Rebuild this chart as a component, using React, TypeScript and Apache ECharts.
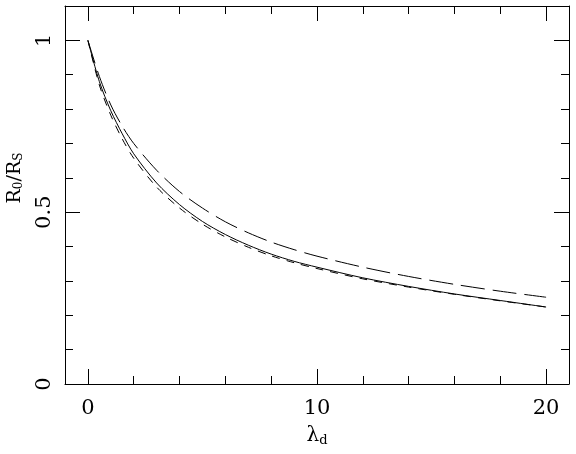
import { useEffect, useRef } from 'react'
import * as echarts from 'echarts'

// λ_d sample points and the three R0/RS curves
const lambda = [0, 0.5, 1, 1.5, 2, 3, 4, 5, 6, 7, 8, 9, 10, 12, 14, 16, 18, 20]
const solid = [1, 0.88, 0.795, 0.728, 0.67, 0.585, 0.522, 0.473, 0.435, 0.404, 0.378, 0.357, 0.34, 0.309, 0.284, 0.262, 0.243, 0.224]
const longDash = [1, 0.895, 0.812, 0.75, 0.7, 0.622, 0.56, 0.512, 0.472, 0.44, 0.413, 0.391, 0.372, 0.34, 0.313, 0.29, 0.27, 0.2525]
const shortDash = [1, 0.87, 0.782, 0.713, 0.657, 0.573, 0.512, 0.465, 0.428, 0.398, 0.373, 0.353, 0.336, 0.306, 0.282, 0.261, 0.242, 0.224]

const xMajor = [0, 10, 20]
const xMinor = [2, 4, 6, 8, 12, 14, 16, 18]
const yMajor = [0, 0.5, 1]
const yMinor = [0.1, 0.2, 0.3, 0.4, 0.6, 0.7, 0.8, 0.9]

const FONT = 'DejaVu Serif'
const INK = '#000'

export default function App() {
  const chartRef = useRef<HTMLDivElement>(null)

  useEffect(() => {
    if (!chartRef.current) return
    const chart = echarts.init(chartRef.current, undefined, { renderer: 'svg' })

    const pts = (ys: number[]) => lambda.map((x, i) => [x, ys[i]])

    const xAxisBase = (position: 'bottom' | 'top', ticks: number[], len: number, labels: boolean, line: boolean) => ({
      type: 'value',
      position,
      min: -1,
      max: 21,
      axisLine: { show: line, onZero: false, lineStyle: { color: INK, width: 1 } },
      axisTick: { show: true, inside: true, length: len, customValues: ticks, lineStyle: { color: INK, width: 1 } },
      axisLabel: labels
        ? { show: true, customValues: ticks, color: INK, fontSize: 21, fontFamily: FONT, margin: 12 }
        : { show: false },
      splitLine: { show: false },
    })

    const yAxisBase = (position: 'left' | 'right', ticks: number[], len: number, labels: boolean, line: boolean) => ({
      type: 'value',
      position,
      min: 0,
      max: 1.1,
      axisLine: { show: line, onZero: false, lineStyle: { color: INK, width: 1 } },
      axisTick: { show: true, inside: true, length: len, customValues: ticks, lineStyle: { color: INK, width: 1 } },
      axisLabel: labels
        ? { show: true, customValues: ticks, rotate: 90, color: INK, fontSize: 21, fontFamily: FONT, margin: 12 }
        : { show: false },
      splitLine: { show: false },
    })

    const line = (name: string, ys: number[], type: any) => ({
      name,
      type: 'line',
      data: pts(ys),
      showSymbol: false,
      smooth: 0.3,
      xAxisIndex: 0,
      yAxisIndex: 0,
      lineStyle: { color: INK, width: 1, type },
    })

    chart.setOption({
      animation: false,
      grid: { left: 65, top: 6, width: 504, height: 378 },
      xAxis: [
        xAxisBase('bottom', xMajor, 15, true, true),
        xAxisBase('bottom', xMinor, 8, false, false),
        xAxisBase('top', xMajor, 15, false, true),
        xAxisBase('top', xMinor, 8, false, false),
      ],
      yAxis: [
        yAxisBase('left', yMajor, 15, true, true),
        yAxisBase('left', yMinor, 8, false, false),
        yAxisBase('right', yMajor, 15, false, true),
        yAxisBase('right', yMinor, 8, false, false),
      ],
      graphic: [
        {
          type: 'text',
          x: 317,
          y: 434,
          style: {
            text: 'λ{s|d}',
            fill: INK,
            fontSize: 20,
            fontFamily: FONT,
            align: 'center',
            verticalAlign: 'middle',
            rich: { s: { fontSize: 13, fontFamily: FONT, fill: INK, padding: [10, 0, 0, 0] } },
          },
        },
        {
          type: 'text',
          x: 13,
          y: 178,
          rotation: Math.PI / 2,
          style: {
            text: 'R{s|0}/R{s|S}',
            fill: INK,
            fontSize: 19,
            fontFamily: FONT,
            align: 'center',
            verticalAlign: 'middle',
            rich: { s: { fontSize: 12, fontFamily: FONT, fill: INK, padding: [10, 0, 0, 0] } },
          },
        },
      ],
      series: [
        line('solid', solid, 'solid'),
        line('long dash', longDash, [24, 8]),
        line('short dash', shortDash, [8, 7]),
      ],
    })

    return () => chart.dispose()
  }, [])

  return <div ref={chartRef} style={{ position: 'fixed', left: 0, top: 0, width: 576, height: 454 }} />
}
